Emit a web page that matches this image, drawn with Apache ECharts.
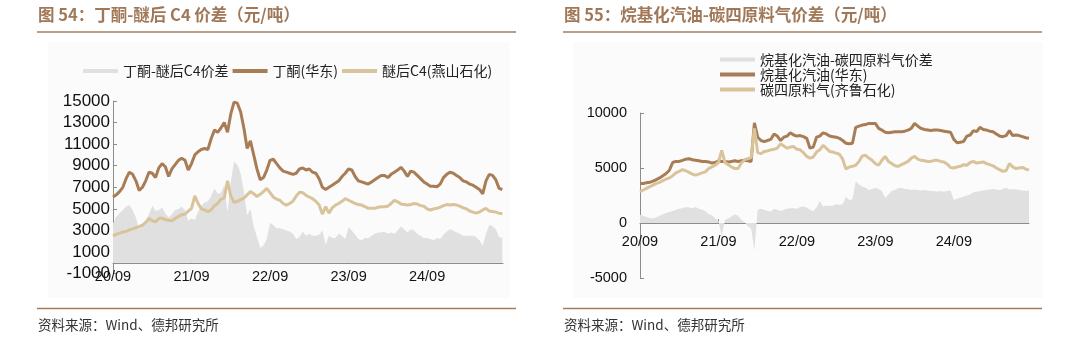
<!DOCTYPE html>
<html>
<head>
<meta charset="utf-8">
<script src="https://cdn.jsdelivr.net/npm/echarts@6/dist/echarts.min.js"></script>
<style>
html,body{margin:0;padding:0;background:#fff;}
#c{width:1080px;height:342px;}
</style>
</head>
<body>
<div id="c"></div>
<script>
// x grid: months since 2020/09, half-month steps
const months = [];
for (let i = 0; i < 120; i++) months.push(i / 2);
const tickMonths = [0, 12, 24, 36, 48];
const tickLabels = ['20/09', '21/09', '22/09', '23/09', '24/09'];

// Chart 54
const names54 = ['丁酮-醚后C4价差', '丁酮(华东)', '醚后C4(燕山石化)'];
const spread54 = [3650,4300,4600,4900,5200,5350,4900,4200,3100,3500,3900,4500,5300,4800,4900,5100,4600,4200,4500,4900,
5000,5200,4900,3900,4100,4000,4700,5300,5600,5700,6200,6900,6400,6500,7200,4700,7500,9400,9100,8300,
6600,4400,5000,3400,2400,1400,1600,2200,3700,3500,3200,3200,3100,3000,2900,2700,2200,2400,2900,2500,
2700,2500,2500,2600,3000,1700,2500,2300,2300,2700,2500,2200,3300,3000,2600,2200,2100,2300,2300,2500,
2700,2800,2800,2900,2700,2800,2700,3000,3400,3100,2800,3100,3000,2700,2500,2300,2300,2200,2100,2300,
2200,2600,2900,3100,3000,2800,2700,2500,2500,2500,2500,2400,2100,1600,2700,3500,3400,3100,2400,2300];
const butanone = [6100,6300,6600,7000,7800,8400,8200,7600,6700,7000,7600,8400,8300,7900,8800,9200,8900,8000,8700,9100,
9500,9700,9500,8600,9200,10000,10300,10500,10600,10500,11500,12300,12100,12500,13000,12100,13800,14900,14800,14000,
12500,10600,11300,10000,8700,7700,7900,8600,9500,9600,9200,8800,8500,8400,8300,8200,8300,8700,8800,8600,
8700,8400,8300,7800,7000,6800,7000,7200,7400,7600,8000,8300,8700,8600,8000,7600,7500,7400,7300,7500,
7700,7900,8100,8100,7900,8200,8400,8600,8850,8500,8000,8500,8400,8100,7800,7500,7300,7100,7100,7050,
7300,7900,8200,8400,8300,8100,7900,7600,7500,7300,7200,7000,6800,6400,7600,8200,8100,7700,6900,6800];
const etherC4 = [2500,2650,2750,2850,2900,3050,3150,3250,3350,3500,3750,4100,3900,3800,4100,4150,4000,3950,3900,4100,
4300,4450,4500,4800,5050,6200,5500,5000,4900,4750,4900,5300,5500,5900,6000,7600,6200,5600,5700,5850,
6000,6300,6600,6400,6150,6350,6600,6900,6500,6100,5900,5800,5500,5350,5500,5700,6200,6550,6500,6250,
6100,5950,5700,5350,4500,5200,4600,5100,5350,5500,5700,5950,5800,5650,5500,5400,5350,5200,5050,5050,
5050,5150,5200,5200,5250,5500,5800,5650,5450,5400,5350,5400,5500,5450,5300,5250,5000,4900,5000,5050,
5150,5300,5400,5350,5400,5350,5250,5100,5000,4800,4700,4600,4700,4900,5050,4800,4750,4700,4600,4550];

// Chart 55
const names55 = ['烷基化汽油-碳四原料气价差', '烷基化汽油(华东)', '碳四原料气(齐鲁石化)'];
const spread55 = [750,650,550,450,400,500,650,800,900,1000,1100,1200,1300,1350,1450,1400,1350,1450,1300,1200,
1100,800,700,400,200,-1200,300,400,600,800,650,300,100,-300,-500,-2500,1200,1300,1200,1100,
1050,1300,1200,1100,1200,1300,1350,1350,1300,1450,1500,1400,1200,1100,1400,2000,1500,1600,1550,1600,
1700,1650,1700,2400,2100,2150,3800,3500,3300,3200,3000,3100,3200,3100,2900,2300,2600,2900,3000,3150,
3200,3100,3100,3000,3050,3000,2950,3000,2950,2900,2900,2850,2900,2850,2900,2950,2100,2200,2300,2400,
2500,2600,2800,2850,2900,2950,3000,3050,3100,3050,3000,3100,3200,3050,3100,3050,3000,2950,2900,2950];
const alkylate = [3600,3600,3650,3700,3800,3950,4100,4300,4500,4800,5500,5600,5600,5700,5800,5850,5750,5700,5650,5600,
5600,5550,5450,5500,5650,5600,5600,5550,5600,5650,5600,5650,5700,5650,5600,9100,7800,7500,7400,7500,
7600,8100,7900,7500,7800,7900,8200,8000,7900,7950,7850,7700,6800,6900,7800,7900,8200,8100,7900,7850,
7800,7700,7500,7250,7200,7250,8700,8800,8900,8950,9050,9050,9050,8600,8450,8250,8200,8250,8300,8300,
8300,8350,8450,8600,9050,8800,8600,8500,8450,8400,8450,8450,8400,8350,8300,8250,7600,7300,7350,7400,
7900,8000,8400,8300,8700,8500,8450,8350,8300,8100,7900,7850,7950,8400,7950,8000,7950,7850,7750,7700];
const c4feed = [2850,3000,3150,3300,3450,3600,3700,3850,4000,4100,4300,4550,4700,4850,4750,4600,4450,4350,4450,4550,
4650,4950,5100,5250,5500,6600,5500,5300,5100,4950,4950,5450,5750,5850,5950,8600,6400,6300,6500,6550,
6650,6700,6800,7200,7000,6800,6900,6950,6700,6650,6400,6050,5900,6000,6450,6650,7050,6800,6500,6450,
6350,6250,5800,4900,5100,5150,5250,5600,6100,6150,5900,5700,5400,5250,5700,6050,5600,5400,5200,5150,
5300,5450,5600,5900,6050,5800,5700,5650,5600,5600,5700,5700,5600,5550,5350,5050,5000,5100,5150,5300,
5250,5500,5600,5450,5500,5550,5400,5300,5200,5000,4850,4700,4750,5400,5100,4950,5000,5050,4900,4800];

const pairs = arr => arr.map((v, i) => [months[i], v]);

const C_BROWN = '#A87D55';
const C_TAN = '#D9C39A';
const C_GRAY = '#E0E0E0';
const C_TITLE = '#A07858';
const AXIS_C = '#8c8c8c';
const NUM_FONT = "'Liberation Sans', Arial, sans-serif";
const CJK_FONT = "'Noto Sans CJK SC', sans-serif";

// hidden x axis for data grids
function xDataAxis(gridIndex, max) {
  return { type: 'value', gridIndex, min: 0, max, show: false, splitLine: { show: false } };
}
// visible x axis drawn on an overlay grid whose bottom sits at value 0
function xShownAxis(gridIndex, max, labelMargin) {
  return {
    type: 'value', gridIndex, min: 0, max,
    axisLine: { onZero: false, lineStyle: { color: AXIS_C, width: 1 } },
    axisTick: { show: true, inside: true, length: 4, customValues: tickMonths, lineStyle: { color: AXIS_C } },
    axisLabel: {
      customValues: tickMonths, margin: labelMargin,
      formatter: v => tickLabels[tickMonths.indexOf(Math.round(v))] || '',
      color: '#111', fontFamily: NUM_FONT, fontSize: 14.5
    },
    splitLine: { show: false }
  };
}
function yAxisCfg(gridIndex, min, max, interval, fontSize, margin) {
  return {
    type: 'value', gridIndex, min, max, interval,
    axisLine: { show: true, onZero: false, lineStyle: { color: AXIS_C, width: 1 } },
    axisTick: { show: true, inside: true, length: 4, lineStyle: { color: AXIS_C } },
    axisLabel: { color: '#111', fontFamily: NUM_FONT, fontSize, margin, formatter: v => String(v) },
    splitLine: { show: false }
  };
}
function yHidden(gridIndex) {
  return { type: 'value', gridIndex, min: 0, max: 1, show: false, splitLine: { show: false } };
}

const chart = echarts.init(document.getElementById('c'), null, { renderer: 'canvas' });
chart.setOption({
  animation: false,
  backgroundColor: '#ffffff',
  graphic: [
    { type: 'rect', shape: { x: 48, y: 42, width: 462, height: 256 }, style: { fill: '#fbfbfb' }, z: -10 },
    { type: 'rect', shape: { x: 573, y: 42, width: 470, height: 256 }, style: { fill: '#fbfbfb' }, z: -10 },
    { type: 'text', x: 38, y: 15, style: { text: '图 54：丁酮-醚后 C4 价差（元/吨）', font: "bold 16.5px 'Noto Sans CJK SC', sans-serif", fill: C_TITLE, verticalAlign: 'middle', textVerticalAlign: 'middle' } },
    { type: 'text', x: 564, y: 15, style: { text: '图 55：烷基化汽油-碳四原料气价差（元/吨）', font: "bold 16.5px 'Noto Sans CJK SC', sans-serif", fill: C_TITLE, verticalAlign: 'middle', textVerticalAlign: 'middle' } },
    { type: 'line', shape: { x1: 37, y1: 32, x2: 516, y2: 32 }, style: { stroke: '#A67C5C', lineWidth: 1.5 } },
    { type: 'line', shape: { x1: 563, y1: 32, x2: 1042, y2: 32 }, style: { stroke: '#A67C5C', lineWidth: 1.5 } },
    { type: 'line', shape: { x1: 37, y1: 308.5, x2: 516, y2: 308.5 }, style: { stroke: '#A67C5C', lineWidth: 1.5 } },
    { type: 'line', shape: { x1: 563, y1: 308.5, x2: 1042, y2: 308.5 }, style: { stroke: '#A67C5C', lineWidth: 1.5 } },
    { type: 'text', x: 38, y: 325, style: { text: '资料来源：Wind、德邦研究所', font: "13.5px 'Noto Sans CJK SC', sans-serif", fill: '#333', verticalAlign: 'middle', textVerticalAlign: 'middle' } },
    { type: 'text', x: 564, y: 325, style: { text: '资料来源：Wind、德邦研究所', font: "13.5px 'Noto Sans CJK SC', sans-serif", fill: '#333', verticalAlign: 'middle', textVerticalAlign: 'middle' } }
  ],
  legend: [
    {
      left: 78, top: 59, orient: 'horizontal', itemWidth: 35, itemHeight: 4, itemGap: 4, icon: 'rect',
      data: names54,
      textStyle: { fontFamily: CJK_FONT, fontSize: 14, color: '#222' }
    },
    {
      left: 715, top: 47, orient: 'vertical', itemWidth: 35, itemHeight: 4, itemGap: 0, icon: 'rect',
      data: names55,
      textStyle: { fontFamily: CJK_FONT, fontSize: 14, color: '#222', lineHeight: 15 }
    }
  ],
  grid: [
    { left: 113, top: 101, width: 390, height: 172.6 },
    { left: 640, top: 113, width: 389, height: 165 },
    { left: 113, top: 101, width: 390, height: 161.8 },
    { left: 640, top: 113, width: 389, height: 110 }
  ],
  xAxis: [ xDataAxis(0, 59.6), xDataAxis(1, 59.5), xShownAxis(2, 59.6, 7), xShownAxis(3, 59.5, 11) ],
  yAxis: [ yAxisCfg(0, -1000, 15000, 2000, 17, 3), yAxisCfg(1, -5000, 10000, 5000, 14.5, 13), yHidden(2), yHidden(3) ],
  series: [
    { name: names54[0], type: 'line', xAxisIndex: 0, yAxisIndex: 0, data: pairs(spread54), symbol: 'none',
      lineStyle: { width: 0, color: C_GRAY }, itemStyle: { color: C_GRAY }, areaStyle: { color: C_GRAY, opacity: 1 } },
    { name: names54[1], type: 'line', xAxisIndex: 0, yAxisIndex: 0, data: pairs(butanone), symbol: 'none',
      lineStyle: { width: 3, color: C_BROWN }, itemStyle: { color: C_BROWN } },
    { name: names54[2], type: 'line', xAxisIndex: 0, yAxisIndex: 0, data: pairs(etherC4), symbol: 'none',
      lineStyle: { width: 3, color: C_TAN }, itemStyle: { color: C_TAN } },
    { name: names55[0], type: 'line', xAxisIndex: 1, yAxisIndex: 1, data: pairs(spread55), symbol: 'none',
      lineStyle: { width: 0, color: C_GRAY }, itemStyle: { color: C_GRAY }, areaStyle: { color: C_GRAY, opacity: 1 } },
    { name: names55[1], type: 'line', xAxisIndex: 1, yAxisIndex: 1, data: pairs(alkylate), symbol: 'none',
      lineStyle: { width: 3, color: C_BROWN }, itemStyle: { color: C_BROWN } },
    { name: names55[2], type: 'line', xAxisIndex: 1, yAxisIndex: 1, data: pairs(c4feed), symbol: 'none',
      lineStyle: { width: 3, color: C_TAN }, itemStyle: { color: C_TAN } }
  ]
});
</script>
</body>
</html>
